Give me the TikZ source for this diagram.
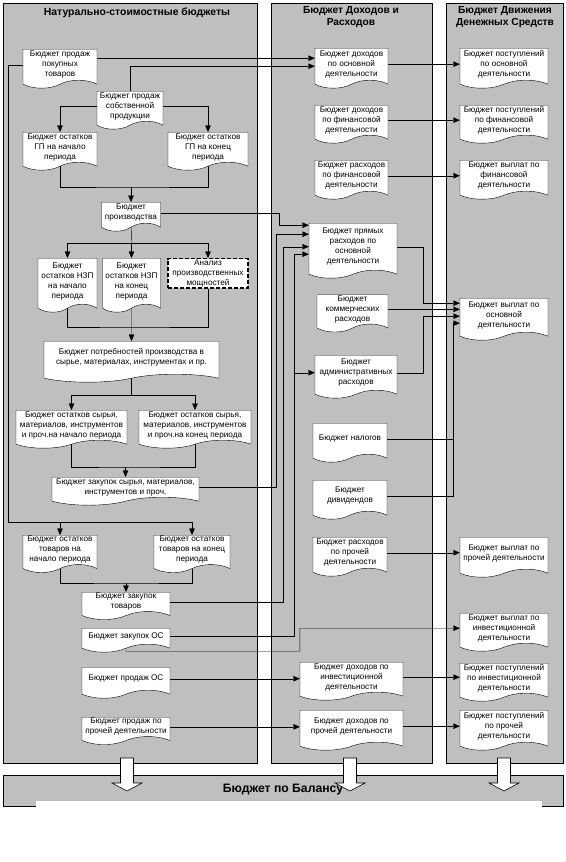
\documentclass[tikz,border=0pt]{standalone}
\usepackage{fontspec}
\setmainfont{Liberation Sans}
\usepackage{tikz}
\usetikzlibrary{arrows.meta,shapes.symbols}
\pgfdeclarelayer{panel}
\pgfdeclarelayer{wire}
\pgfsetlayers{panel,wire,main}

\begin{document}
\begin{tikzpicture}[x=1pt, y=-1pt, >={Triangle[length=6.5pt,width=5.5pt]}, line width=0.75pt,
  doc/.style 2 args={shape=tape, tape bend top=none, tape bend bottom=in and out,
    tape bend height=8pt, draw, fill=white, anchor=north, align=center, inner sep=1pt,
    minimum width=#1pt, minimum height=#2pt, font=\fontsize{8.2}{10}\selectfont},
  task/.style 2 args={rectangle, draw, dashed, dash pattern=on 4pt off 2pt, line width=1.3pt,
    fill=white, anchor=north, align=center, inner sep=1pt, minimum width=#1pt,
    minimum height=#2pt, font=\fontsize{8.2}{10}\selectfont},
  panelbox/.style={draw, line width=0.9pt, fill=black!25},
  head/.style={align=center, font=\fontsize{10.2}{12.5}\selectfont\bfseries}]
\useasboundingbox (0,0) rectangle (565,862);

\begin{pgfonlayer}{panel}
\draw[panelbox] (3,3) rectangle (257,763);
\draw[panelbox] (271,3) rectangle (432,763);
\draw[panelbox] (446,3) rectangle (563,763);
\draw[panelbox] (3,775) rectangle (563,806);
\fill[white] (36,801) rectangle (542,862);
\end{pgfonlayer}

\node[head, font=\fontsize{10.4}{12.5}\selectfont\bfseries] (hnat) at (137,13) {Натурально-стоимостные бюджеты};
\node[head] (hbdr) at (351,17) {Бюджет Доходов и\\Расходов};
\node[head] (hbdds) at (505,17) {Бюджет Движения\\Денежных Средств};
\node[head, font=\fontsize{12.2}{14}\selectfont\bfseries] (hbal) at (283,790) {Бюджет по Балансу};

% left column
\node[doc={74}{39}] (sbuy) at (60,49) {Бюджет продаж\\покупных\\товаров};
\node[doc={66}{38}] (sown) at (130,91) {Бюджет продаж\\собственной\\продукции};
\node[doc={74}{38}] (fgbeg) at (60,132) {Бюджет остатков\\ГП на начало\\периода};
\node[doc={80}{38}] (fgend) at (208,132) {Бюджет остатков\\ГП на конец\\периода};
\node[doc={59}{29}] (prod) at (131,202) {Бюджет\\производства};
\node[doc={59}{54}] (wipbeg) at (67.5,258) {Бюджет\\остатков НЗП\\на начало\\периода};
\node[doc={58}{54}] (wipend) at (131.5,258) {Бюджет\\остатков НЗП\\на конец\\периода};
\node[task={80}{28}] (capan) at (208,258) {Анализ\\производственных\\мощностей};
\node[doc={175}{41}] (needs) at (131.5,341) {Бюджет потребностей производства в\\сырье, материалах, инструментах и пр.};
\node[doc={111}{38}] (rmbeg) at (71.5,410) {Бюджет остатков сырья,\\материалов, инструментов\\и проч.на начало периода};
\node[doc={112}{38}] (rmend) at (195,410) {Бюджет остатков сырья,\\материалов, инструментов\\и проч.на конец периода};
\node[doc={147}{28}] (rmbuy) at (125.5,477) {Бюджет закупок сырья, материалов,\\инструментов и проч.};
\node[doc={74}{37}] (gdbeg) at (60,535) {Бюджет остатков\\товаров на\\начало периода};
\node[doc={76}{37}] (gdend) at (192,535) {Бюджет остатков\\товаров на конец\\периода};
\node[doc={88}{26}] (gdbuy) at (126,592) {Бюджет закупок\\товаров};
\node[doc={88}{24}] (fabuy) at (126,628) {Бюджет закупок ОС};
\node[doc={88}{31}] (fasale) at (126,667) {Бюджет продаж ОС};
\node[doc={88}{25}] (othsale) at (126,717) {Бюджет продаж по\\прочей деятельности};

% middle column
\node[doc={73}{40}] (incmain) at (351.5,48) {Бюджет доходов\\по основной\\деятельности};
\node[doc={73}{38}] (incfin) at (351.5,105) {Бюджет доходов\\по финансовой\\деятельности};
\node[doc={73}{39}] (expfin) at (351.5,160) {Бюджет расходов\\по финансовой\\деятельности};
\node[doc={88}{55}] (direct) at (353,223) {Бюджет прямых\\расходов по\\основной\\деятельности};
\node[doc={71}{37}] (comm) at (352.5,294.5) {Бюджет\\коммерческих\\расходов};
\node[doc={82}{43}] (admin) at (356,355) {Бюджет\\административных\\расходов};
\node[doc={74}{39}] (tax) at (350,423) {Бюджет налогов};
\node[doc={74}{39}] (divid) at (350,480) {Бюджет\\дивидендов};
\node[doc={74}{39}] (expoth) at (350,537) {Бюджет расходов\\по прочей\\деятельности};
\node[doc={103}{38}] (incinv) at (351.5,662) {Бюджет доходов по\\инвестиционной\\деятельности};
\node[doc={103}{40}] (incoth) at (351.5,710) {Бюджет доходов по\\прочей деятельности};

% right column
\node[doc={88}{40}] (recmain) at (504,48) {Бюджет поступлений\\по основной\\деятельности};
\node[doc={88}{38}] (recfin) at (504,105) {Бюджет поступлений\\по финансовой\\деятельности};
\node[doc={88}{39}] (payfin) at (504,160) {Бюджет выплат по\\финансовой\\деятельности};
\node[doc={88}{42}] (paymain) at (504,298) {Бюджет выплат по\\основной\\деятельности};
\node[doc={88}{40}] (payoth) at (504,537) {Бюджет выплат по\\прочей деятельности};
\node[doc={88}{38}] (payinv) at (504,613) {Бюджет выплат по\\инвестиционной\\деятельности};
\node[doc={88}{38}] (recinv) at (504,663) {Бюджет поступлений\\по инвестиционной\\деятельности};
\node[doc={88}{40}] (recoth) at (504,710) {Бюджет поступлений\\по прочей\\деятельности};

\coordinate (busL) at (8,522);
\coordinate (jfg) at ([yshift=15pt]prod.north);
\coordinate (jpr) at ([yshift=15pt]wipend.north);
\coordinate (jwp) at ([yshift=14pt]needs.north);
\coordinate (jrm) at ([yshift=10pt]rmbuy.north);
\coordinate (jgd) at ([yshift=9pt]gdbuy.north);

\begin{pgfonlayer}{wire}
\draw[->] (sbuy.west) -| (busL) -| (gdend.north);
\draw[->] (gdbeg.north |- busL) -- (gdbeg.north);
\draw[->] (sown.west) -| (fgbeg.north);
\draw[->] (sown.east) -| (fgend.north);
\draw (fgbeg) |- (jfg) -| (fgend);
\draw[->] (jfg) -- (prod.north);
\draw (prod) -- (jpr);
\draw[->] (jpr) -| (wipbeg.north);
\draw[->] (jpr) -| (capan.north);
\draw[->] (jpr) -- (wipend.north);
\draw (wipbeg) |- (jwp) -| (capan);
\draw[->] (wipend) -- (needs.north);
\draw[->] (needs) |- ([yshift=15pt]rmbeg.north) -- (rmbeg.north);
\draw[->] (needs) |- ([yshift=15pt]rmend.north) -- (rmend.north);
\draw (rmbeg) |- (jrm) -| (rmend);
\draw[->] (jrm) -- (rmbuy.north);
\draw (gdbeg) |- (jgd) -| (gdend);
\draw[->] (jgd) -- (gdbuy.north);

\draw[->] ([yshift=6.5pt]sbuy.east) -- ([yshift=6.5pt]sbuy.east -| incmain.west);
\draw[->] (sown.north) |- ([yshift=-2pt]incmain.west);
\draw[->] (prod.east) -| ([xshift=-30pt,yshift=21.5pt]direct.west) -- ([yshift=21.5pt]direct.west);
\draw[->] (rmbuy.east) -| ([xshift=-33pt,yshift=12.5pt]direct.west) -- ([yshift=12.5pt]direct.west);
\draw[->] (gdbuy.east) -| ([xshift=-26pt]direct.west) -- (direct.west);
\draw[->] (fabuy.east) -| ([xshift=-15pt,yshift=-7.5pt]direct.west) -- ([yshift=-7.5pt]direct.west);
\draw[->] ([xshift=-15pt]direct.west |- admin.west) -- (admin.west);
\draw[->] (fabuy) -- ++(0,15) -| ([xshift=-160pt]payinv.west) -- (payinv.west);
\draw[->] (fasale.east) -- (fasale.east -| incinv.west);
\draw[->] (othsale.east) -- (othsale.east -| incoth.west);

\draw[->] (incmain.east) -- (incmain.east -| recmain.west);
\draw[->] (incfin.east) -- (incfin.east -| recfin.west);
\draw[->] (expfin.east) -- (expfin.east -| payfin.west);
\draw[->] (direct.east) -| ([xshift=-37pt,yshift=12pt]paymain.west) -- ([yshift=12pt]paymain.west);
\draw[->] (comm.east) -- (comm.east -| paymain.west);
\draw[->] (admin.east) -| ([xshift=-37pt,yshift=-1pt]paymain.west) -- ([yshift=-1pt]paymain.west);
\draw[->] (divid.east) -| ([xshift=-7pt,yshift=-8pt]paymain.west) -- ([yshift=-8pt]paymain.west);
\draw (tax.east) -- ([xshift=-7pt]paymain.west |- tax.east);
\draw[->] (expoth.east) -- (expoth.east -| payoth.west);
\draw[->] (incinv.east) -- (incinv.east -| recinv.west);
\draw[->] (incoth.east) -- (incoth.east -| recoth.west);
\end{pgfonlayer}

\foreach \cx in {127,350,504}
  \draw[fill=white, line width=0.6pt] (\cx-6.5,758) -- (\cx+6.5,758) -- (\cx+6.5,783)
    -- (\cx+15,783) -- (\cx,791) -- (\cx-15,783) -- (\cx-6.5,783) -- cycle;
\end{tikzpicture}
\end{document}
